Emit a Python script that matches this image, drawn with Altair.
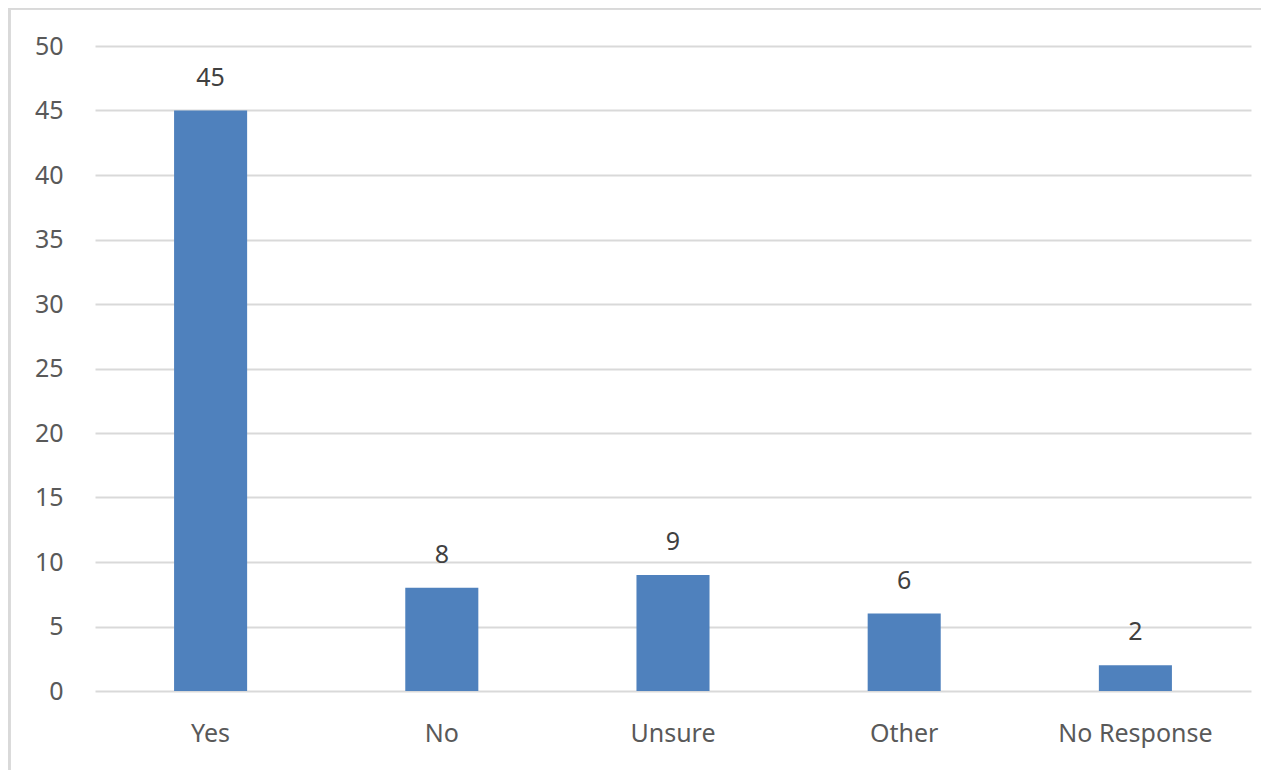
import altair as alt
import pandas as pd

categories = ["Yes", "No", "Unsure", "Other", "No Response"]
values = [45, 8, 9, 6, 2]

df = pd.DataFrame({"category": categories, "value": values})

FONT = "Noto Sans"

base = alt.Chart(df)

bars = base.mark_bar(color="#4F81BD").encode(
    x=alt.X("category:N", sort=categories,
            scale=alt.Scale(paddingInner=0.684, paddingOuter=0.342),
            axis=alt.Axis(title=None, labelAngle=0, ticks=False, domain=False,
                          labelFontSize=25, labelColor="#595959", labelFont=FONT,
                          labelPadding=30, grid=False)),
    y=alt.Y("value:Q", scale=alt.Scale(domain=[0, 50]),
            axis=alt.Axis(title=None, values=list(range(0, 51, 5)), ticks=False,
                          domain=False, labelFontSize=25, labelColor="#595959",
                          labelFont=FONT, labelPadding=32,
                          gridColor="#D9D9D9", gridWidth=2)),
)

labels = base.mark_text(baseline="bottom", dy=-20, fontSize=25, color="#404040",
                        font=FONT).encode(
    x=alt.X("category:N", sort=categories),
    y="value:Q",
    text="value:Q",
)

border_top = alt.Chart(df).mark_rule(color="#D9D9D9", strokeWidth=3).encode(
    x=alt.value(-86), x2=alt.value(1200), y=alt.value(-38)
)
border_left = alt.Chart(df).mark_rule(color="#D9D9D9", strokeWidth=3).encode(
    x=alt.value(-86), y=alt.value(-38), y2=alt.value(740)
)

chart = alt.layer(border_top, border_left, bars, labels).properties(
    width=1156, height=645,
    padding={"left": 87, "top": 38, "right": 10, "bottom": 80},
    autosize=alt.AutoSizeParams(type="none"),
).configure_view(stroke=None).configure_axis(labelFont=FONT)

chart.save("out.html", embed_options={"renderer": "svg", "actions": False})
